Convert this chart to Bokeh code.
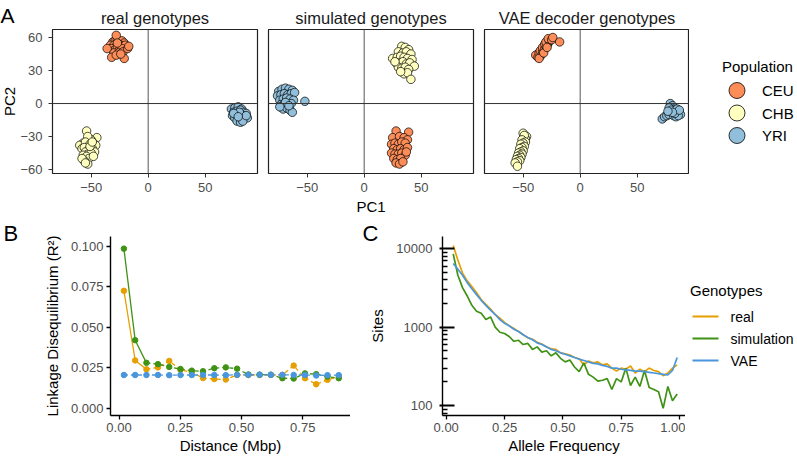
import math
from bokeh.plotting import figure
from bokeh.layouts import row, column
from bokeh.models import Range1d, FixedTicker, Span, NumeralTickFormatter
from bokeh.embed import file_html
from bokeh.resources import INLINE
from bokeh.core.properties import value

FONT = "Liberation Sans"
TICK_COLOR = "#4D4D4D"

# ---------------- data: panel A (PCA) ----------------
populations = ["CEU", "CHB", "YRI"]
population_colors = ["#FC8D59", "#FFFFBF", "#91BFDB"]
facet_keys = ["real", "simulated", "vae"]
facet_titles = ["real genotypes", "simulated genotypes", "VAE decoder genotypes"]
pc1_ticks = [-50, 0, 50]
pc2_ticks = [-60, -30, 0, 30, 60]

real_CEU_pc1 = [-31, -29, -27, -25, -23, -21, -33, -30, -28, -26, -24, -22, -20, -32, -29, -27, -25, -23, -30, -26, -22, -18, -32, -21, -28, -28, -24, -36, -17, -27]
real_CEU_pc2 = [56, 57, 58, 56, 57, 55, 53, 53, 52, 54, 53, 52, 53, 50, 49, 50, 49, 50, 46, 46, 47, 50, 42, 41, 62, 44, 45, 50, 52, 55]
real_CHB_pc1 = [-54, -45, -50, -53, -57, -60, -55, -51, -48, -46, -58, -56, -52, -49, -47, -55, -53, -50, -57, -54, -52, -48, -56, -58, -51, -53, -55, -49]
real_CHB_pc2 = [-25, -31, -33, -30, -36, -38, -35, -37, -36, -38, -41, -40, -42, -41, -44, -44, -46, -45, -47, -48, -50, -48, -52, -50, -39, -55, -54, -35]
real_YRI_pc1 = [73, 76, 79, 82, 75, 78, 81, 84, 86, 74, 77, 80, 83, 85, 76, 79, 82, 84, 87, 78, 81, 83, 80, 86, 75, 79]
real_YRI_pc2 = [-5, -4, -3, -5, -8, -7, -6, -8, -9, -11, -10, -10, -11, -12, -13, -13, -14, -14, -13, -16, -17, -16, -8, -11, -9, -12]

sim_CEU_pc1 = [28, 39, 25, 31, 35, 38, 24, 27, 30, 33, 36, 26, 29, 32, 35, 38, 24, 27, 30, 33, 36, 26, 29, 32, 28, 31, 34, 37]
sim_CEU_pc2 = [-25, -26, -31, -30, -31, -33, -37, -36, -37, -35, -36, -41, -42, -41, -42, -40, -45, -46, -46, -45, -47, -50, -51, -50, -54, -55, -53, -44]
sim_CHB_pc1 = [33, 36, 39, 30, 34, 37, 41, 25, 29, 32, 35, 38, 42, 28, 31, 34, 37, 40, 44, 30, 33, 36, 39, 35, 38, 41, 27, 32]
sim_CHB_pc2 = [52, 51, 49, 47, 46, 47, 45, 41, 42, 43, 42, 41, 40, 37, 37, 38, 36, 37, 34, 33, 32, 33, 31, 27, 28, 22, 38, 29]
sim_YRI_pc1 = [-75, -72, -69, -66, -63, -76, -73, -70, -67, -64, -61, -74, -71, -68, -65, -62, -73, -70, -67, -64, -71, -68, -65, -52, -69, -74, -63, -66]
sim_YRI_pc2 = [11, 13, 14, 13, 12, 7, 8, 9, 8, 9, 10, 3, 4, 5, 4, 3, -1, 0, -1, 0, -5, -4, -6, 2, 1, -3, -8, -2]

vae_CEU_pc1 = [-39, -37, -35, -36, -34, -35, -33, -32, -33, -31, -30, -31, -29, -28, -30, -27, -26, -28, -25, -24, -18, -36, -32, -29]
vae_CEU_pc2 = [44, 42, 43, 46, 45, 48, 47, 49, 51, 50, 52, 54, 53, 55, 56, 57, 58, 59, 58, 60, 56, 41, 46, 51]
vae_CHB_pc1 = [-50, -47, -48, -49, -51, -48, -50, -52, -49, -51, -53, -50, -52, -54, -51, -53, -55, -52, -54, -56, -53, -55, -57, -55]
vae_CHB_pc2 = [-27, -30, -32, -29, -33, -35, -36, -37, -39, -40, -41, -43, -44, -45, -46, -47, -48, -49, -50, -51, -52, -53, -54, -57]
vae_YRI_pc1 = [72, 74, 76, 78, 79, 80, 81, 82, 83, 84, 85, 86, 87, 88, 78, 80, 82, 84, 86, 83, 85, 87, 81, 77]
vae_YRI_pc2 = [-14, -12, -11, -10, 0, -3, -2, -5, -6, -8, -7, -9, -8, -10, -4, -6, -11, -12, -11, -9, -5, -6, -8, -7]

pca = {
    "real": {"CEU": (real_CEU_pc1, real_CEU_pc2), "CHB": (real_CHB_pc1, real_CHB_pc2), "YRI": (real_YRI_pc1, real_YRI_pc2)},
    "simulated": {"CEU": (sim_CEU_pc1, sim_CEU_pc2), "CHB": (sim_CHB_pc1, sim_CHB_pc2), "YRI": (sim_YRI_pc1, sim_YRI_pc2)},
    "vae": {"CEU": (vae_CEU_pc1, vae_CEU_pc2), "CHB": (vae_CHB_pc1, vae_CHB_pc2), "YRI": (vae_YRI_pc1, vae_YRI_pc2)},
}

# ---------------- data: panels B and C ----------------
genotype_labels = ["real", "simulation", "VAE"]
genotype_colors = ["#E69F00", "#3F9214", "#4A96DC"]

ld_distance = [0.020, 0.066, 0.112, 0.159, 0.205, 0.251, 0.297, 0.343, 0.389, 0.436,
               0.482, 0.528, 0.574, 0.620, 0.667, 0.713, 0.759, 0.805, 0.851, 0.897]
ld_real = [0.0725, 0.0295, 0.0240, 0.0252, 0.0292, 0.0237, 0.0222, 0.0186, 0.0180, 0.0177,
           0.0205, 0.0205, 0.0205, 0.0205, 0.0205, 0.0263, 0.0185, 0.0148, 0.0175, 0.0195]
ld_simulation = [0.0985, 0.0420, 0.0280, 0.0272, 0.0255, 0.0242, 0.0232, 0.0228, 0.0247, 0.0252,
                 0.0244, 0.0208, 0.0207, 0.0207, 0.0185, 0.0183, 0.0215, 0.0210, 0.0195, 0.0185]
ld_vae = [0.0205, 0.0205, 0.0205, 0.0205, 0.0204, 0.0205, 0.0205, 0.0205, 0.0205, 0.0204,
          0.0206, 0.0206, 0.0207, 0.0206, 0.0206, 0.0205, 0.0205, 0.0202, 0.0204, 0.0204]
ld_ticks = [0, 0.025, 0.05, 0.075, 0.1]
distance_ticks = [0, 0.25, 0.5, 0.75]

sfs_freq = [0.03, 0.05, 0.07, 0.09, 0.11, 0.13, 0.15, 0.17, 0.19, 0.21, 0.23, 0.25, 0.27, 0.29, 0.31, 0.33,
            0.35, 0.37, 0.39, 0.41, 0.43, 0.45, 0.47, 0.49, 0.51, 0.53, 0.55, 0.57, 0.59, 0.61, 0.63, 0.65,
            0.67, 0.69, 0.71, 0.73, 0.75, 0.77, 0.79, 0.81, 0.83, 0.85, 0.87, 0.89, 0.91, 0.93, 0.95, 0.97, 0.99]
sfs_real = [11000, 7200, 4900, 3900, 3300, 2750, 2250, 1950, 1700, 1450, 1300, 1150, 1040, 960, 880, 800,
            730, 700, 640, 610, 560, 530, 520, 470, 455, 440, 410, 395, 330, 370, 350, 360,
            330, 340, 300, 275, 300, 290, 320, 260, 290, 270, 300, 280, 270, 240, 260, 300, 330]
sfs_simulation = [8600, 4600, 3200, 2500, 1900, 1600, 1500, 1250, 1350, 1000, 860, 830, 760, 660, 680, 600,
                  620, 520, 560, 480, 500, 430, 470, 400, 360, 380, 310, 270, 350, 250, 230, 205,
                  210, 220, 160, 220, 200, 300, 180, 230, 175, 280, 170, 160, 150, 92, 175, 115, 140]
sfs_vae = [6500, 5500, 4600, 3700, 3100, 2600, 2200, 1900, 1650, 1450, 1250, 1120, 1040, 940, 880, 800,
           740, 690, 630, 600, 560, 520, 500, 470, 450, 430, 410, 390, 375, 360, 345, 340,
           325, 315, 300, 300, 290, 285, 280, 275, 275, 270, 265, 260, 255, 250, 245, 280, 410]
freq_ticks = [0, 0.25, 0.5, 0.75, 1.0]
sites_ticks = [100, 1000, 10000]

# ---------------- layout constants ----------------
STRIP_A = 16
A_LEFT, A_FW, A_FH, A_TOP, A_BOTTOM = 36, 205, 144, 29, 46
LEG_A = 108
STRIP_B = 20
B_LEFT, B_FW = 90, 240
STRIP_C = 36
C_LEFT, C_FW = 56, 243
LEG_C = 112
BC_TOP, BC_FH, BC_BOTTOM = 17, 179, 41


def style_axis(ax, tick_color="#333333", tick_width=1.0):
    ax.major_label_text_font = FONT
    ax.major_label_text_font_size = "13px"
    ax.major_label_text_color = TICK_COLOR
    ax.axis_label_text_font = FONT
    ax.axis_label_text_font_size = "15px"
    ax.axis_label_text_font_style = "normal"
    ax.axis_label_text_color = "black"
    ax.minor_tick_line_color = None
    ax.major_tick_line_color = tick_color
    ax.major_tick_line_width = tick_width
    ax.major_tick_in = 0
    ax.major_tick_out = 4


def blank(width, frame_h, top, bottom, title=None):
    """Plain area whose frame lines up with the row's plot frames; units are pixels from the frame's bottom-left."""
    p = figure(title=title, frame_width=width, frame_height=frame_h,
               x_range=Range1d(0, width), y_range=Range1d(0, frame_h),
               x_axis_location=None, y_axis_location=None,
               min_border_left=0, min_border_right=0, min_border_top=top, min_border_bottom=bottom,
               outline_line_color=None, output_backend="svg", toolbar_location=None)
    p.grid.visible = False
    return p


def letter_title(p, size, standoff, offset, valign="bottom"):
    p.title.text_font = FONT
    p.title.text_font_size = size
    p.title.text_font_style = "normal"
    p.title.text_color = "black"
    p.title.align = "left"
    p.title.vertical_align = valign
    p.title.standoff = standoff
    p.title.offset = offset


def put_text(p, frame_h, x, y_below_top, texts, size, angle=0.0, align="left", baseline="middle"):
    p.text(x=x, y=[frame_h - v for v in y_below_top], text=texts, angle=angle, text_font=value(FONT),
           text_font_size=value(size), text_align=align, text_baseline=baseline, text_color="black")


minus = "\u2212"

# ---------------- panel A ----------------
stripA = blank(STRIP_A, A_FH, A_TOP, A_BOTTOM, title="A")
letter_title(stripA, "21px", 1, 0, valign="top")
put_text(stripA, A_FH, [8.5], [A_FH / 2], ["PC2"], "15px", angle=math.pi / 2, align="center")

facet_figs = []
for i, (key, title) in enumerate(zip(facet_keys, facet_titles)):
    first = i == 0
    last = i == len(facet_keys) - 1
    p = figure(title=title, frame_width=A_FW, frame_height=A_FH,
               x_range=Range1d(-83.9, 95.9), y_range=Range1d(-63.6, 67.3),
               y_axis_location="left" if first else None,
               output_backend="svg", toolbar_location=None,
               min_border_left=A_LEFT if first else 6, min_border_right=0 if last else 5,
               min_border_top=A_TOP, min_border_bottom=A_BOTTOM)
    p.title.align = "center"
    p.title.text_font = FONT
    p.title.text_font_size = "16.5px"
    p.title.text_font_style = "normal"
    p.title.text_color = "#1A1A1A"
    p.title.standoff = 6
    p.xgrid.visible = False
    p.ygrid.visible = False
    p.outline_line_color = "#222222"
    p.outline_line_width = 1.2

    xa = p.xaxis[0]
    style_axis(xa)
    xa.axis_line_color = None
    xa.ticker = FixedTicker(ticks=pc1_ticks)
    xa.major_label_overrides = {t: (minus + str(abs(t)) if t < 0 else str(t)) for t in pc1_ticks}
    xa.major_label_standoff = 5
    xa.axis_label_standoff = 3
    if i == 1:
        xa.axis_label = "PC1"
    if first:
        ya = p.yaxis[0]
        style_axis(ya)
        ya.axis_line_color = None
        ya.ticker = FixedTicker(ticks=pc2_ticks)
        ya.major_label_overrides = {t: (minus + str(abs(t)) if t < 0 else str(t)) for t in pc2_ticks}
        ya.major_label_standoff = 6

    p.add_layout(Span(location=0, dimension="height", line_color="#555555", line_width=1))
    p.add_layout(Span(location=0, dimension="width", line_color="#333333", line_width=1))

    for pop, col in zip(populations, population_colors):
        xs, ys = pca[key][pop]
        p.scatter(xs, ys, size=8.5, fill_color=col, line_color="black", line_width=0.7)
    facet_figs.append(p)

# Population legend
legA = blank(LEG_A, A_FH, A_TOP, A_BOTTOM)
put_text(legA, A_FH, [32.5], [37], ["Population"], "15px")
pop_y = [61 + 22.5 * k for k in range(len(populations))]
legA.scatter(x=[47.5] * len(populations), y=[A_FH - v for v in pop_y], size=16, fill_color=population_colors,
             line_color="black", line_width=0.8)
put_text(legA, A_FH, [72.5] * len(populations), pop_y, populations, "15px")

# ---------------- panel B ----------------
stripB = blank(STRIP_B, BC_FH, BC_TOP, BC_BOTTOM, title="B")
letter_title(stripB, "22px", -19, 3)

pB = figure(frame_width=B_FW, frame_height=BC_FH, x_range=Range1d(-0.0347, 0.9449),
            y_range=Range1d(-0.0045, 0.106), output_backend="svg", toolbar_location=None,
            min_border_left=B_LEFT, min_border_right=0, min_border_top=BC_TOP,
            min_border_bottom=BC_BOTTOM)
pB.xgrid.visible = False
pB.ygrid.visible = False
pB.outline_line_color = None
for ax in (pB.xaxis[0], pB.yaxis[0]):
    style_axis(ax, tick_color="black", tick_width=1.3)
    ax.axis_line_color = "black"
    ax.axis_line_width = 1.4
    ax.major_label_standoff = 3
pB.xaxis[0].ticker = FixedTicker(ticks=distance_ticks)
pB.xaxis[0].formatter = NumeralTickFormatter(format="0.00")
pB.xaxis[0].axis_label = "Distance (Mbp)"
pB.xaxis[0].axis_label_standoff = 2
pB.yaxis[0].ticker = FixedTicker(ticks=ld_ticks)
pB.yaxis[0].formatter = NumeralTickFormatter(format="0.000")
pB.yaxis[0].axis_label = "Linkage Disequilibrium (R\u00b2)"
pB.yaxis[0].axis_label_standoff = 7

ld_series = [ld_real, ld_simulation, ld_vae]
for k, (vals, col) in enumerate(zip(ld_series, genotype_colors)):
    if k < 2:
        pB.line(ld_distance[:3], vals[:3], line_color=col, line_width=1.3)
        pB.line(ld_distance[2:], vals[2:], line_color=col, line_width=1.3, line_dash="4 3")
    else:
        pB.line(ld_distance, vals, line_color=col, line_width=1.3, line_dash="4 3")
    pB.scatter(ld_distance, vals, size=5.5, fill_color=col, line_color=col)

# ---------------- panel C ----------------
stripC = blank(STRIP_C, BC_FH, BC_TOP, BC_BOTTOM, title="C")
letter_title(stripC, "22px", -19, 12)
put_text(stripC, BC_FH, [27], [BC_FH / 2], ["Sites"], "15px", angle=math.pi / 2, align="center")

pC = figure(frame_width=C_FW, frame_height=BC_FH, x_range=Range1d(-0.0159, 1.0257),
            y_range=Range1d(74.5, 14360), y_axis_type="log", output_backend="svg",
            toolbar_location=None, min_border_left=C_LEFT, min_border_right=0,
            min_border_top=BC_TOP, min_border_bottom=BC_BOTTOM)
pC.xgrid.visible = False
pC.ygrid.visible = False
pC.outline_line_color = None
for ax in (pC.xaxis[0], pC.yaxis[0]):
    style_axis(ax, tick_color="black", tick_width=1.3)
    ax.axis_line_color = "black"
    ax.axis_line_width = 1.4
    ax.major_label_standoff = 3
pC.xaxis[0].ticker = FixedTicker(ticks=freq_ticks)
pC.xaxis[0].formatter = NumeralTickFormatter(format="0.00")
pC.xaxis[0].axis_label = "Allele Frequency"
pC.xaxis[0].axis_label_standoff = 2
minor_sites = [m * 10 ** e for e in (1, 2, 3, 4) for m in range(2, 10)
               if pC.y_range.start <= m * 10 ** e <= pC.y_range.end]
ya = pC.yaxis[0]
ya.ticker = FixedTicker(ticks=sites_ticks, minor_ticks=minor_sites)
ya.formatter = NumeralTickFormatter(format="0")
ya.major_tick_in = 12
ya.major_tick_out = 3
ya.major_tick_line_width = 2
ya.minor_tick_line_color = "black"
ya.minor_tick_line_width = 1.5
ya.minor_tick_in = 5
ya.minor_tick_out = 0
ya.major_label_standoff = 7

sfs_series = [sfs_real, sfs_simulation, sfs_vae]
for vals, col in zip(sfs_series, genotype_colors):
    pC.line(sfs_freq, vals, line_color=col, line_width=1.7)

# Genotypes legend
legC = blank(LEG_C, BC_FH, BC_TOP, BC_BOTTOM)
put_text(legC, BC_FH, [4.5], [54], ["Genotypes"], "15px")
gen_y = [80 + 22 * k for k in range(len(genotype_labels))]
legC.segment(x0=[7] * 3, x1=[33] * 3, y0=[BC_FH - v for v in gen_y], y1=[BC_FH - v for v in gen_y],
             line_color=genotype_colors, line_width=2)
put_text(legC, BC_FH, [45] * 3, gen_y, genotype_labels, "14px")

layout = column(row(stripA, *facet_figs, legA), row(stripB, pB, stripC, pC, legC))
open("out.html", "w").write(file_html(layout, INLINE))
